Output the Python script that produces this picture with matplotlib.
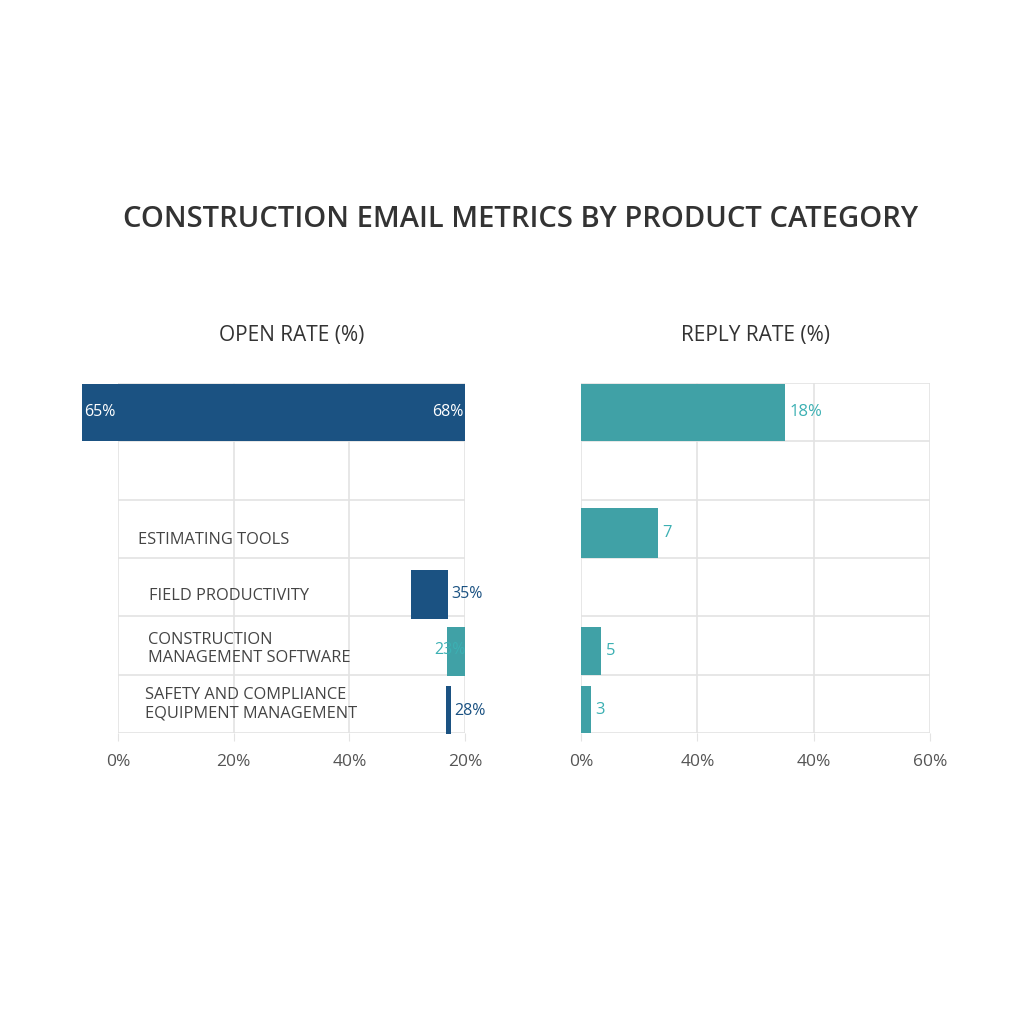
import matplotlib.pyplot as plt
import numpy as np

plt.rcParams['font.family'] = ['Open Sans', 'DejaVu Sans']

# rows from top to bottom
categories = ["", "", "ESTIMATING TOOLS", "FIELD PRODUCTIVITY",
              "CONSTRUCTION\nMANAGEMENT SOFTWARE",
              "SAFETY AND COMPLIANCE\nEQUIPMENT MANAGEMENT"]

open_left = [-6.2, np.nan, np.nan, 50.7, 56.9, 56.7]
open_right = [60.0, np.nan, np.nan, 57.1, 60.0, 57.6]
open_labels = ["65%", "", "", "35%", "23%", "28%"]
open_end_label = "68%"
open_ticks = [0, 20, 40, 60]
open_ticklabels = ["0%", "20%", "40%", "20%"]

reply_vals = [35.1, np.nan, 13.2, np.nan, 3.4, 1.7]
reply_labels = ["18%", "", "7", "", "5", "3"]
reply_ticks = [0, 20, 40, 60]
reply_ticklabels = ["0%", "40%", "40%", "60%"]

navy = '#1b5282'
teal = '#40a1a6'
teal_txt = '#3cb0b3'
grid_c = '#e3e3e3'
txt_c = '#333333'

fig = plt.figure(figsize=(10.24, 10.24), dpi=100)
fig.text(0.508, 0.786, "CONSTRUCTION EMAIL METRICS BY PRODUCT CATEGORY",
         ha='center', va='center', fontsize=21, color=txt_c,
         fontweight='semibold')

ax1 = fig.add_axes([0.1152, 0.2842, 0.3389, 0.3418])
ax2 = fig.add_axes([0.5674, 0.2842, 0.3408, 0.3418])

rows = np.arange(len(categories))


def style(ax, ticks, ticklabels):
    ax.set_xlim(0, 60)
    ax.set_ylim(5.5, -0.5)
    ax.set_xticks(ticks)
    ax.set_xticklabels(ticklabels)
    ax.set_yticks([])
    ax.set_yticks(np.arange(-0.5, 6, 1), minor=True)
    ax.tick_params(axis='y', which='both', length=0)
    ax.tick_params(axis='x', length=6, color=grid_c, labelsize=12.5,
                   labelcolor='#555555', pad=9)
    ax.grid(True, axis='x', color=grid_c, lw=1.2)
    ax.grid(True, axis='y', which='minor', color=grid_c, lw=1.2)
    ax.set_axisbelow(True)
    for s in ax.spines.values():
        s.set_visible(False)


style(ax1, open_ticks, open_ticklabels)
style(ax2, reply_ticks, reply_ticklabels)

ax1.set_title("OPEN RATE (%)", fontsize=15, color=txt_c, pad=30)
ax2.set_title("REPLY RATE (%)", fontsize=15, color=txt_c, pad=30)

# open rate bars
open_colors = [navy, navy, navy, navy, teal, navy]
open_h = [0.98, 0.84, 0.84, 0.84, 0.84, 0.82]
open_dy = [0.0, 0.1, 0.1, 0.12, 0.1, 0.1]
for i in rows:
    if np.isnan(open_left[i]):
        continue
    w = open_right[i] - open_left[i]
    ax1.barh(i + open_dy[i], w, left=open_left[i], height=open_h[i],
             color=open_colors[i], clip_on=False, zorder=3)

vlab = dict(fontsize=11.5, va='center', zorder=4, fontweight='medium',
            clip_on=False)
ax1.text(open_left[0] + 0.4, 0, open_labels[0], color='white', ha='left', **vlab)
ax1.text(open_right[0] - 0.3, 0, open_end_label, color='white', ha='right', **vlab)
ax1.text(open_right[3] + 0.6, 3 + 0.12, open_labels[3], color=navy,
         ha='left', **vlab)
ax1.text(open_right[4] + 0.1, 4 + 0.08, open_labels[4], color=teal_txt,
         ha='right', **vlab)
ax1.text(open_right[5] + 0.5, 5 + 0.12, open_labels[5], color=navy,
         ha='left', **vlab)

# category names drawn inside the left panel
label_x = [0, 0, 3.5, 5.4, 5.2, 4.7]
label_dy = [0, 0, 0.2, 0.15, 0.06, 0.0]
for i in rows:
    if categories[i]:
        ax1.text(label_x[i], i + label_dy[i], categories[i], fontsize=11.8,
                 color='#444444', va='center', ha='left', zorder=4,
                 linespacing=1.2)

# reply rate bars
reply_h = [0.98, 0.86, 0.86, 0.86, 0.82, 0.8]
reply_dy = [0.0, 0.07, 0.07, 0.07, 0.1, 0.1]
for i in rows:
    if np.isnan(reply_vals[i]):
        continue
    ax2.barh(i + reply_dy[i], reply_vals[i], height=reply_h[i], color=teal,
             zorder=3)
    ax2.text(reply_vals[i] + 0.8, i + reply_dy[i], reply_labels[i],
             color=teal_txt, fontsize=12, va='center', ha='left', zorder=4,
             fontweight='medium')

fig.savefig('out.png', dpi=100, facecolor='white')
